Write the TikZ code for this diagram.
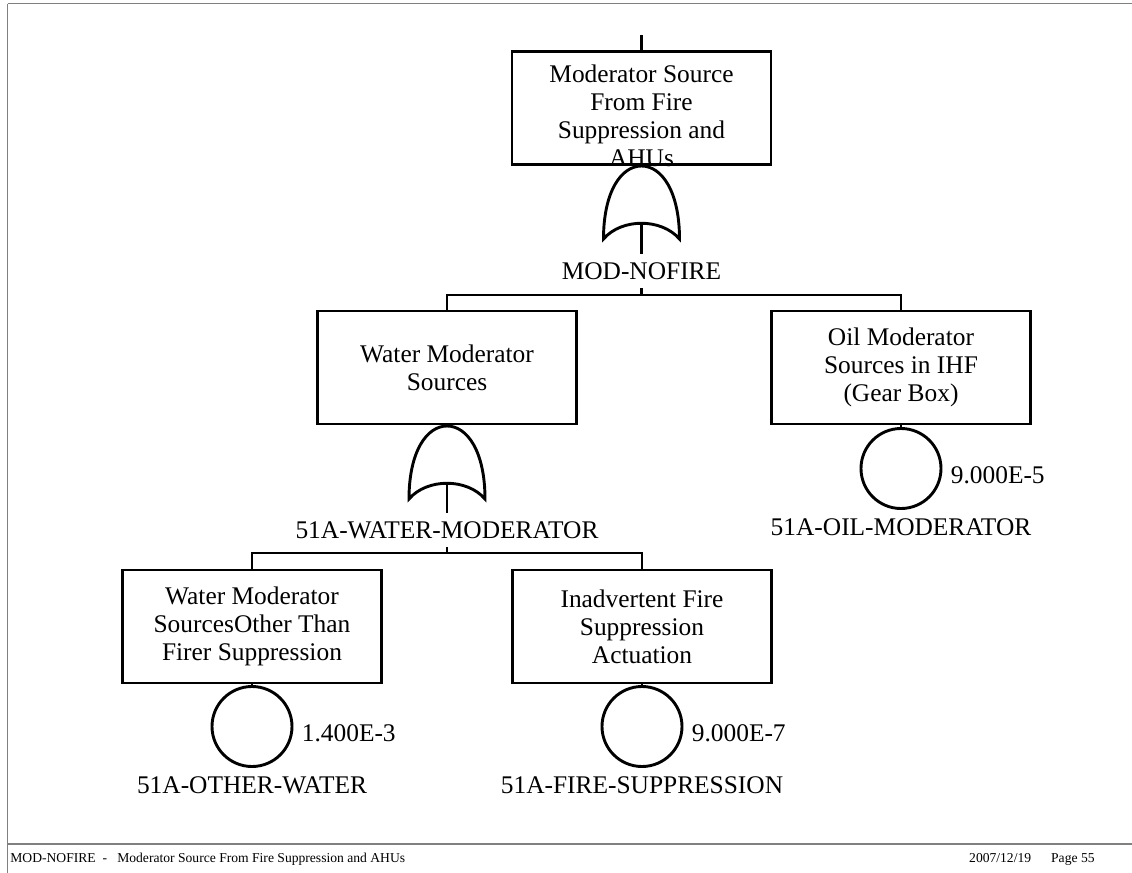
\documentclass[tikz,border=0pt]{standalone}
\usepackage{fontspec}
\setmainfont{Liberation Serif}
\usetikzlibrary{positioning}

\tikzset{
  evbox/.style={draw, line width=1.45pt, minimum width=129.5pt, minimum height=56.5pt,
    inner sep=0pt, align=center, font=\fontsize{12.7}{14}\selectfont},
  evtext/.style={inner sep=0pt, align=center, font=\fontsize{12.7}{14}\selectfont},
  basic/.style={draw, circle, line width=1.45pt, minimum size=40pt, inner sep=0pt},
  gatelbl/.style={inner sep=4pt, font=\fontsize{12.7}{14}\selectfont},
  evname/.style={inner sep=0pt, font=\fontsize{12.7}{14}\selectfont},
  prob/.style={inner sep=0pt, font=\fontsize{12.7}{14}\selectfont},
  wire/.style={line width=1.45pt},
  frameline/.style={gray, line width=0.8pt},
  footer/.style={inner sep=0pt, font=\fontsize{6.8}{8}\selectfont},
  pics/orgate/.style={code={
    \draw[wire] (-38,73) .. controls (-38,25) and (-20,0) .. (0,0)
      .. controls (20,0) and (38,25) .. (38,73)
      .. controls (20,52) and (-20,52) .. (-38,73) -- cycle;
    \coordinate (-in) at (0,57);
  }}
}

\begin{document}
\begin{tikzpicture}[x=0.5pt, y=-0.5pt]
    \useasboundingbox (0,0) rectangle (1132,873);

    % Marco de la pagina
    \draw[frameline] (7.5,3.5) -- (1132,3.5);
    \draw[frameline] (7.5,3.5) -- (7.5,873);
    \draw[frameline] (7.5,844) -- (1132,844);

    % Evento superior
    \coordinate (stub) at (641.5,35);
    \node[evbox] (topbox) at (641.5,108) {};
    \node[evtext, below=7pt of topbox.north] (toptxt) {Moderator Source\\From Fire\\Suppression and\\AHUs};
    \draw[wire] (stub) -- (topbox.north);

    % Puerta OR MOD-NOFIRE
    \pic (g1) at (641.5,166) {orgate};
    \node[gatelbl] (g1lbl) at (641.5,271) {MOD-NOFIRE};
    \coordinate (bus1) at (641.5,295);
    \draw[wire] (g1-in) -- (g1lbl.north);
    \draw[wire] (g1lbl.south) -- (bus1);

    % Segundo nivel
    \node[evbox] (wmbox) at (447,367.5) {Water Moderator\\Sources};
    \node[evbox] (oilbox) at (901,367.5) {Oil Moderator\\Sources in IHF\\(Gear Box)};
    \draw[wire] (wmbox.north) |- (bus1) -| (oilbox.north);

    % Evento basico de aceite
    \node[basic] (oilev) at (901,468.5) {};
    \draw[wire] (oilbox.south) -- (oilev.north);
    \node[prob, right=4pt of oilev, yshift=-3.5pt] (oilp) {9.000E-5};
    \node[evname, below=4pt of oilev] (oilname) {51A-OIL-MODERATOR};

    % Puerta OR 51A-WATER-MODERATOR
    \pic (g2) at (447,426) {orgate};
    \node[gatelbl] (g2lbl) at (447,530) {51A-WATER-MODERATOR};
    \coordinate (bus2) at (447,553);
    \draw[wire] (g2-in) -- (g2lbl.north);
    \draw[wire] (g2lbl.south) -- (bus2);

    % Tercer nivel
    \node[evbox] (othbox) at (252,626.5) {Water Moderator\\SourcesOther Than\\Firer Suppression};
    \node[evbox] (firebox) at (642,626.5) {Inadvertent Fire\\Suppression\\Actuation};
    \draw[wire] (othbox.north) |- (bus2) -| (firebox.north);

    % Eventos basicos
    \node[basic] (othev) at (252,726.5) {};
    \draw[wire] (othbox.south) -- (othev.north);
    \node[prob, right=4pt of othev, yshift=-3.5pt] (othp) {1.400E-3};
    \node[evname, below=4pt of othev] (othname) {51A-OTHER-WATER};

    \node[basic] (fireev) at (642,726.5) {};
    \draw[wire] (firebox.south) -- (fireev.north);
    \node[prob, right=4pt of fireev, yshift=-3.5pt] (firep) {9.000E-7};
    \node[evname, below=4pt of fireev] (firename) {51A-FIRE-SUPPRESSION};

    % Pie de pagina
    \node[footer, anchor=west] (ftleft) at (10,859) {MOD-NOFIRE\ \ -\ \ \ Moderator Source From Fire Suppression and AHUs};
    \node[footer, anchor=east] (ftright) at (1095,859) {2007/12/19\hspace{10pt}Page 55};
\end{tikzpicture}
\end{document}
